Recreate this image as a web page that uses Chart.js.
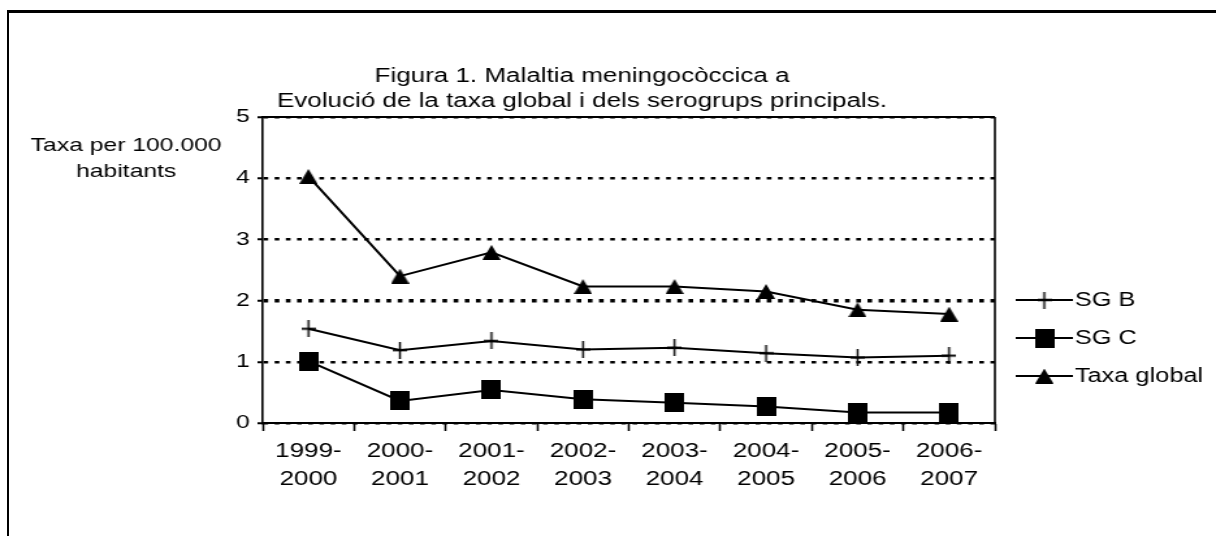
<!DOCTYPE html>
<html>
<head>
<meta charset="utf-8">
<script src="https://cdn.jsdelivr.net/npm/chart.js@4/dist/chart.umd.min.js"></script>
<style>
  html, body { margin: 0; padding: 0; background: #fff; overflow: hidden; }
  #frame {
    position: absolute; left: 7px; top: 10px; width: 1300px; height: 600px;
    border-left: 2px solid #000; border-top: 3px solid #000;
  }
  /* the reference text is wide, so the whole chart is stretched sideways */
  #wrap {
    position: absolute; left: 0; top: 0; width: 935px; height: 536px;
    transform: scaleX(1.3005); transform-origin: 0 0;
  }
</style>
</head>
<body>
<div id="frame"></div>
<div id="wrap"><canvas id="lineChart"></canvas></div>
<script>
const seasons = [
  ['1999-', '2000'], ['2000-', '2001'], ['2001-', '2002'], ['2002-', '2003'],
  ['2003-', '2004'], ['2004-', '2005'], ['2005-', '2006'], ['2006-', '2007'],
];
const sgB = [1.54, 1.19, 1.34, 1.20, 1.23, 1.14, 1.07, 1.10];
const sgC = [1.01, 0.36, 0.54, 0.39, 0.33, 0.27, 0.17, 0.17];
const taxaGlobal = [4.03, 2.40, 2.79, 2.23, 2.23, 2.15, 1.85, 1.78];
const seriesNames = ['SG B', 'SG C', 'Taxa global'];
const titleLines = ['Figura 1. Malaltia meningocòccica a', 'Evolució de la taxa global i dels serogrups principals.'];
const yTitleLines = ['Taxa per 100.000', 'habitants'];

const FONT = '"Liberation Sans", Arial, sans-serif';

// markers are drawn narrower because the wrapper stretches them back
function marker(w, h, draw) {
  const c = document.createElement('canvas');
  c.width = w;
  c.height = h;
  const g = c.getContext('2d');
  g.fillStyle = '#000';
  draw(g, w, h);
  return c;
}
const crossImg = marker(11, 17, (g, w, h) => {
  g.fillRect(0, 7.5, w, 2);
  g.fillRect(4.75, 0, 1.5, h);
});
const squareImg = marker(15, 19, (g, w, h) => g.fillRect(0, 0, w, h));
const triangleImg = marker(14, 15, (g, w, h) => {
  g.beginPath();
  g.moveTo(w / 2, 0);
  g.lineTo(w, h);
  g.lineTo(0, h);
  g.closePath();
  g.fill();
});
const markers = [crossImg, squareImg, triangleImg];

const extraText = {
  id: 'extraText',
  afterDraw(chart) {
    const ctx = chart.ctx;
    const area = chart.chartArea;
    ctx.save();
    // plot frame (top and right)
    ctx.strokeStyle = '#000';
    ctx.lineWidth = 2;
    ctx.beginPath();
    ctx.moveTo(area.left, area.top);
    ctx.lineTo(area.right, area.top);
    ctx.stroke();
    ctx.lineWidth = 1.6;
    ctx.beginPath();
    ctx.moveTo(area.right, area.top);
    ctx.lineTo(area.right, area.bottom);
    ctx.stroke();

    ctx.fillStyle = '#000';
    ctx.textAlign = 'center';
    ctx.textBaseline = 'middle';
    ctx.font = '20px ' + FONT;
    ctx.fillText(titleLines[0], 447.5, 76);
    ctx.fillText(titleLines[1], 447.5, 101);
    ctx.font = '19px ' + FONT;
    ctx.fillText(yTitleLines[0], 97, 146);
    ctx.fillText(yTitleLines[1], 97, 172);

    // legend: line with marker in the middle
    const rows = [300, 338, 376];
    ctx.textAlign = 'left';
    ctx.font = '19.5px ' + FONT;
    seriesNames.forEach((name, i) => {
      const y = rows[i];
      ctx.lineWidth = 2;
      ctx.beginPath();
      ctx.moveTo(781, y);
      ctx.lineTo(825, y);
      ctx.stroke();
      const m = markers[i];
      ctx.drawImage(m, 803 - m.width / 2, y - m.height / 2);
      ctx.fillText(name, 826.5, y + 1);
    });
    ctx.restore();
  },
};

const datasets = [sgB, sgC, taxaGlobal].map((values, i) => ({
  label: seriesNames[i],
  data: values,
  borderColor: '#000',
  backgroundColor: '#000',
  borderWidth: 2,
  tension: 0,
  pointStyle: markers[i],
  pointRadius: 6,
}));

new Chart(document.getElementById('lineChart'), {
  type: 'line',
  data: { labels: seasons, datasets: datasets },
  plugins: [extraText],
  options: {
    responsive: true,
    maintainAspectRatio: false,
    animation: false,
    devicePixelRatio: 1,
    layout: { padding: { left: 162, right: 170, top: 117, bottom: 33 } },
    plugins: {
      legend: { display: false },
      title: { display: false },
      tooltip: { enabled: false },
    },
    scales: {
      x: {
        offset: true,
        afterFit: (scale) => { scale.height = 80; },
        grid: {
          offset: true,
          drawOnChartArea: false,
          tickLength: 8,
          tickColor: '#000',
          tickWidth: 1.6,
        },
        border: { color: '#000', width: 2 },
        ticks: {
          color: '#000',
          padding: 6,
          maxRotation: 0,
          autoSkip: false,
          font: { family: FONT, size: 20, lineHeight: 1.4 },
        },
      },
      y: {
        min: 0,
        max: 5,
        afterFit: (scale) => { scale.width = 40; },
        grid: {
          color: '#000',
          lineWidth: (c) => (c.tick && c.tick.value === 2 ? 3.5 : 2.5),
          tickLength: 4,
          tickColor: '#000',
          tickWidth: 2,
        },
        border: { color: '#000', width: 1.6, dash: [3.6, 5] },
        ticks: {
          stepSize: 1,
          color: '#000',
          padding: 6,
          font: { family: FONT, size: 19 },
        },
      },
    },
  },
});
</script>
</body>
</html>
